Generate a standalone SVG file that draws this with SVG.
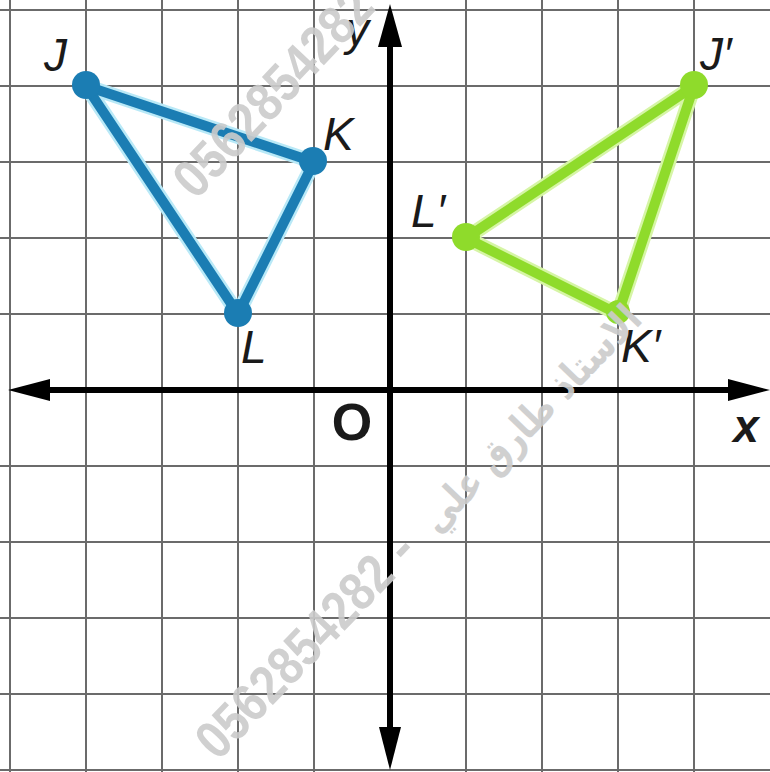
<svg xmlns="http://www.w3.org/2000/svg" width="770" height="772" viewBox="0 0 770 772">
<style>
.grid line{stroke:#6b6b6b;stroke-width:2}
.axis{stroke:#000;stroke-width:6}
.head{fill:#000}
.lbl{font-family:"Liberation Sans",Arial,sans-serif;font-style:italic;font-size:46px;fill:#1a1a1a}
.blue-halo{fill:none;stroke:#b9e9f7;stroke-width:15;stroke-linejoin:round}
.blue{fill:none;stroke:#1b7db3;stroke-width:10;stroke-linejoin:round}
.green-halo{fill:none;stroke:#d6f5a6;stroke-width:15;stroke-linejoin:round}
.green{fill:none;stroke:#8fdb2b;stroke-width:10;stroke-linejoin:round}
.wm{font-family:"Liberation Sans","DejaVu Sans",sans-serif;font-weight:bold;fill:#cccccc;opacity:0.9}
.wma{font-family:"DejaVu Sans",sans-serif;font-weight:bold;fill:#cccccc;opacity:0.9}
</style>
<rect width="770" height="772" fill="#fff"/>
<g id="grid" class="grid">
<line x1="10" y1="0" x2="10" y2="772"/>
<line x1="86" y1="0" x2="86" y2="772"/>
<line x1="162" y1="0" x2="162" y2="772"/>
<line x1="238" y1="0" x2="238" y2="772"/>
<line x1="314" y1="0" x2="314" y2="772"/>
<line x1="466" y1="0" x2="466" y2="772"/>
<line x1="542" y1="0" x2="542" y2="772"/>
<line x1="618" y1="0" x2="618" y2="772"/>
<line x1="694" y1="0" x2="694" y2="772"/>
<line x1="0" y1="10" x2="770" y2="10"/>
<line x1="0" y1="86" x2="770" y2="86"/>
<line x1="0" y1="162" x2="770" y2="162"/>
<line x1="0" y1="238" x2="770" y2="238"/>
<line x1="0" y1="314" x2="770" y2="314"/>
<line x1="0" y1="466" x2="770" y2="466"/>
<line x1="0" y1="542" x2="770" y2="542"/>
<line x1="0" y1="618" x2="770" y2="618"/>
<line x1="0" y1="694" x2="770" y2="694"/>
<line x1="0" y1="770" x2="770" y2="770"/>
</g>
<g id="axes">
<line class="axis" x1="40" y1="390" x2="740" y2="390"/>
<line class="axis" x1="390" y1="35" x2="390" y2="740"/>
<polygon class="head" points="8,390 50,379 50,401"/>
<polygon class="head" points="770,390 728,379 728,401"/>
<polygon class="head" points="390,4 378,47 402,47"/>
<polygon class="head" points="390,770 379,727 401,727"/>
<text class="lbl" x="346" y="45" font-size="48">y</text>
<text class="lbl" x="746" y="442" text-anchor="middle" font-size="50" font-weight="bold">x</text>
<text x="352" y="440" text-anchor="middle" font-family="Liberation Sans, Arial, sans-serif" font-size="52" font-weight="bold" fill="#1a1a1a">O</text>
</g>
<g id="triangle-JKL">
<polygon class="blue-halo" points="86,86 314,162 238,314"/>
<polygon class="blue" points="86,86 314,162 238,314"/>
<circle cx="86" cy="85" r="14" fill="#1b7db3"/>
<circle cx="313" cy="161" r="14" fill="#1b7db3"/>
<circle cx="238" cy="313" r="14" fill="#1b7db3"/>
<text class="lbl" x="44" y="71">J</text>
<text class="lbl" x="323" y="150">K</text>
<text class="lbl" x="241" y="363">L</text>
</g>
<g id="triangle-JKL-prime">
<polygon class="green-halo" points="694,86 618,314 466,238"/>
<polygon class="green" points="694,86 618,314 466,238"/>
<circle cx="694" cy="85" r="14" fill="#8fdb2b"/>
<circle cx="618" cy="312" r="12" fill="#8fdb2b"/>
<circle cx="466" cy="237" r="14" fill="#8fdb2b"/>
<text class="lbl" x="700" y="70">J′</text>
<text class="lbl" x="411" y="227">L′</text>
<text class="lbl" x="621" y="362">K′</text>
</g>
<g id="watermark">
<text class="wm" font-size="54" transform="translate(196,201) rotate(-46.7)" textLength="264" lengthAdjust="spacingAndGlyphs">0562854282</text>
<g transform="translate(218,762) rotate(-46)">
<text class="wm" font-size="54" x="0" y="0" textLength="258" lengthAdjust="spacingAndGlyphs">0562854282</text>
<text class="wm" font-size="54" x="272" y="0">-</text>
<text class="wma" font-size="40" x="316" y="0" textLength="297" lengthAdjust="spacingAndGlyphs">الاستاذ طارق علي</text>
</g>
</g>
</svg>
